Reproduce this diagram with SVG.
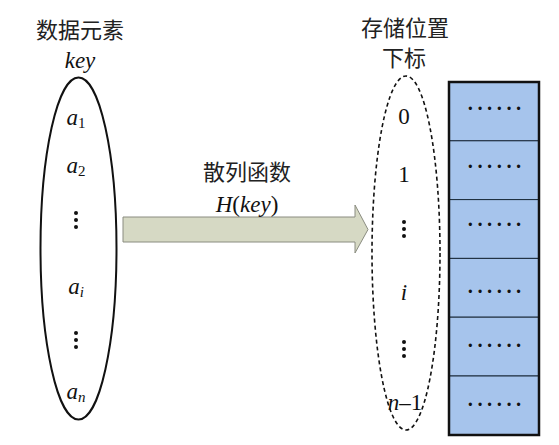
<svg xmlns="http://www.w3.org/2000/svg" width="559" height="445" viewBox="0 0 559 445">
<style>
.cjk{font-family:"Noto Sans CJK SC","Noto Sans CJK JP",sans-serif;font-size:22px;fill:#222;text-anchor:middle}
.m{font-family:"Liberation Serif","Times New Roman",serif;font-size:23px;fill:#111;text-anchor:middle}
.it{font-style:italic}
.sub{font-size:15px}
.dots{font-family:"Liberation Serif",serif;font-size:20px;fill:#111;text-anchor:middle;font-weight:bold;letter-spacing:3px}
.cell{fill:#a6c4ec;stroke:#1a2a3a;stroke-width:1}
.vd{fill:#111}
</style>
<defs>
<g id="vdots"><circle cx="0" cy="0" r="2" class="vd"/><circle cx="0" cy="7" r="2" class="vd"/><circle cx="0" cy="14" r="2" class="vd"/></g>
</defs>
<rect width="559" height="445" fill="#fff"/>
<g id="title-left">
<text class="cjk" x="80" y="38">数据元素</text>
<text class="m it" x="80" y="68">key</text>
</g>
<g id="title-right">
<text class="cjk" x="405" y="36">存储位置</text>
<text class="cjk" x="404" y="66">下标</text>
</g>
<g id="keys">
<ellipse cx="78.5" cy="248.5" rx="38" ry="171" fill="none" stroke="#111" stroke-width="2"/>
<text class="m it" x="76" y="125">a<tspan class="sub" font-style="normal" dy="3">1</tspan></text>
<text class="m it" x="76" y="173">a<tspan class="sub" font-style="normal" dy="3">2</tspan></text>
<use href="#vdots" x="76" y="213"/>
<text class="m it" x="76" y="294">a<tspan class="sub" dy="3">i</tspan></text>
<use href="#vdots" x="76" y="333"/>
<text class="m it" x="76" y="399">a<tspan class="sub" dy="3">n</tspan></text>
</g>
<g id="indices">
<ellipse cx="406" cy="253" rx="34" ry="177" fill="none" stroke="#111" stroke-width="1.6" stroke-dasharray="4,3"/>
<text class="m" x="404" y="124">0</text>
<text class="m" x="404" y="182">1</text>
<use href="#vdots" x="404" y="222"/>
<text class="m it" x="404" y="300">i</text>
<use href="#vdots" x="404" y="342"/>
<text class="m" x="405" y="410"><tspan font-style="italic">n</tspan>–1</text>
</g>
<g id="table">
<rect class="cell" x="449" y="82" width="90" height="58.8"/>
<rect class="cell" x="449" y="140.8" width="90" height="58.8"/>
<rect class="cell" x="449" y="199.6" width="90" height="58.8"/>
<rect class="cell" x="449" y="258.4" width="90" height="58.8"/>
<rect class="cell" x="449" y="317.2" width="90" height="58.8"/>
<rect class="cell" x="449" y="376" width="90" height="59"/>
<rect x="449" y="82" width="90" height="353" fill="none" stroke="#111" stroke-width="2.5"/>
<text class="dots" x="496" y="115">······</text>
<text class="dots" x="496" y="173">······</text>
<text class="dots" x="496" y="231">······</text>
<text class="dots" x="496" y="298">······</text>
<text class="dots" x="496" y="352">······</text>
<text class="dots" x="496" y="411">······</text>
</g>
<g id="connectors">
<polygon points="123,217 355,217 355,205 368,229.5 355,253 355,242 123,242" fill="#d6d9c4" stroke="#8a8c80" stroke-width="1"/>
</g>
<g id="arrow-label">
<text class="cjk" x="247" y="180">散列函数</text>
<text class="m" x="247" y="212"><tspan font-style="italic">H</tspan>(<tspan font-style="italic">key</tspan>)</text>
</g>
</svg>
